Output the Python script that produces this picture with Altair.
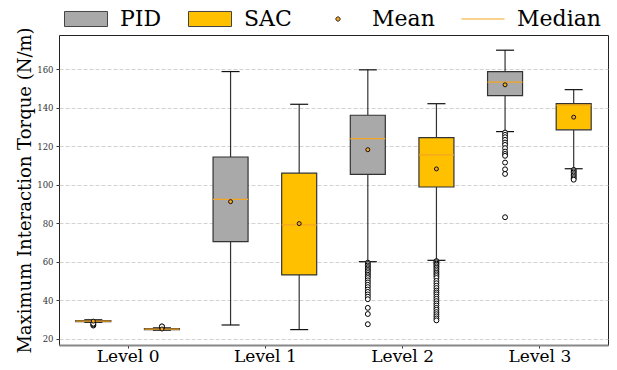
import altair as alt
import pandas as pd

# ---------------- data ----------------
levels = [0, 1, 2, 3]
level_labels = ["Level 0", "Level 1", "Level 2", "Level 3"]
controllers = ["PID", "SAC"]

pid_whislo = [28.5, 27.1, 60.0, 127.6]
pid_q1 = [28.8, 70.4, 105.4, 146.3]
pid_median = [29.1, 92.4, 124.0, 153.3]
pid_q3 = [29.4, 114.4, 136.1, 158.8]
pid_whishi = [29.8, 158.8, 159.7, 169.9]
pid_mean = [29.1, 91.2, 118.2, 151.9]

sac_whislo = [24.4, 24.7, 60.7, 108.3]
sac_q1 = [24.7, 53.1, 98.8, 128.5]
sac_median = [24.9, 79.1, 115.5, 141.3]
sac_q3 = [25.2, 106.0, 124.5, 142.1]
sac_whishi = [25.6, 141.8, 142.1, 149.4]
sac_mean = [25.0, 79.8, 108.2, 135.1]

pid_outliers = [
    [26.8, 27.3, 27.8],
    [],
    [59.5, 58.8, 58.0, 57.2, 56.5, 55.7, 55.0, 54.1, 53.2, 52.4, 51.5, 50.3,
     49.2, 48.0, 46.8, 45.5, 44.3, 43.0, 41.8, 40.5, 36.0, 32.8, 27.5],
    [127.1, 125.9, 124.7, 123.3, 121.9, 120.7, 119.0, 117.2, 116.0, 115.0,
     111.5, 108.0, 105.6, 83.1],
]
sac_outliers = [
    [25.9, 26.2, 26.4],
    [],
    [60.3, 59.7, 59.0, 58.4, 57.6, 56.8, 56.0, 55.1, 54.2, 53.4, 52.5, 51.5,
     50.0, 48.8, 47.5, 46.3, 45.0, 44.0, 43.0, 41.8, 40.7, 39.5, 38.3, 37.2,
     36.0, 35.0, 33.8, 32.7, 31.6, 30.5, 29.5],
    [107.7, 107.0, 106.3, 105.5, 104.8, 104.0, 103.3, 102.6],
]

legend_entries = ["PID", "SAC", "Mean", "Median"]
y_ticks = [20, 40, 60, 80, 100, 120, 140, 160]

# ---------------- tables ----------------
stat_rows = []
for ctrl, arrs in [
    ("PID", (pid_whislo, pid_q1, pid_median, pid_q3, pid_whishi, pid_mean)),
    ("SAC", (sac_whislo, sac_q1, sac_median, sac_q3, sac_whishi, sac_mean)),
]:
    for i, lv in enumerate(levels):
        stat_rows.append(dict(level=lv, ctrl=ctrl, whislo=arrs[0][i], q1=arrs[1][i],
                              median=arrs[2][i], q3=arrs[3][i], whishi=arrs[4][i],
                              mean=arrs[5][i]))
stats = pd.DataFrame(stat_rows)

out_rows = []
for ctrl, lists in [("PID", pid_outliers), ("SAC", sac_outliers)]:
    for i, lv in enumerate(levels):
        for v in lists[i]:
            out_rows.append(dict(level=lv, ctrl=ctrl, value=v))
outliers = pd.DataFrame(out_rows)

legend_df = pd.DataFrame({"entry": legend_entries})

# ---------------- styling ----------------
FONT = "DejaVu Serif"
GRAY = "#A9A9A9"
GOLD = "#FFC000"
ORANGE = "#F5A623"

pos_expr = "datum.level + (datum.ctrl == 'PID' ? -0.25 : 0.25)"
label_arr = "[" + ",".join("'%s'" % s for s in level_labels) + "]"

xscale = alt.Scale(domain=[-0.5, 3.5], nice=False, zero=False)
yscale = alt.Scale(domain=[16.7, 177.8], nice=False, zero=False)

xaxis = alt.Axis(title=None, values=levels, labelExpr=label_arr + "[datum.value]",
                 grid=False, domainColor="#888888", domainWidth=2, tickSize=3,
                 tickColor="#333333", labelFont=FONT, labelFontSize=17,
                 labelColor="black", labelPadding=0)
yaxis = alt.Axis(title="Maximum Interaction Torque (N/m)", values=y_ticks,
                 grid=True, gridDash=[4, 2], gridColor="#c8c8c8", gridWidth=0.8,
                 domain=False, tickSize=3, tickColor="#333333",
                 labelFont=FONT, labelFontSize=8.5, labelColor="#333333",
                 labelPadding=3, titleFont=FONT, titleFontSize=18,
                 titleFontWeight="normal", titleColor="black", titlePadding=2)


def X(f):
    return alt.X(f + ":Q", scale=xscale, axis=xaxis)


def Y(f):
    return alt.Y(f + ":Q", scale=yscale, axis=yaxis)


base = alt.Chart(stats).transform_calculate(
    pos=pos_expr,
    bl="datum.pos - 0.1275", br="datum.pos + 0.1275",
    cl="datum.pos - 0.0656", cr="datum.pos + 0.0656",
)

RECT_PATH = "M-1,-0.35H1V0.35H-1Z"
DOT_PATH = "M0.1,0A0.1,0.1 0 1,1 -0.1,0A0.1,0.1 0 1,1 0.1,0Z"
LINE_PATH = "M-1,0H1"

leg = alt.Legend(
    title=None, orient="none", legendX=5, legendY=-38,
    direction="horizontal", columns=4, symbolSize=1849,
    symbolStrokeWidth=1, labelFont=FONT, labelFontSize=22,
    labelColor="black", labelOffset=12, columnPadding=24, symbolOpacity=1,
    labelLimit=300,
)

fill_scale = alt.Scale(domain=legend_entries, range=[GRAY, GOLD, ORANGE, ORANGE])
stroke_scale = alt.Scale(domain=legend_entries,
                         range=["#444444", "#444444", "#222222", ORANGE])
shape_scale = alt.Scale(domain=legend_entries,
                        range=[RECT_PATH, RECT_PATH, DOT_PATH, LINE_PATH])

dummy = alt.Chart(legend_df).transform_filter("false").mark_point(
    filled=True, opacity=1, strokeWidth=1
).encode(
    fill=alt.Fill("entry:N", scale=fill_scale, legend=leg),
    stroke=alt.Stroke("entry:N", scale=stroke_scale, legend=leg),
    shape=alt.Shape("entry:N", scale=shape_scale, legend=leg),
)

whisk_lo = base.mark_rule(color="#333333", strokeWidth=1.2).encode(
    x=X("pos"), y=Y("whislo"), y2="q1:Q")
whisk_hi = base.mark_rule(color="#333333", strokeWidth=1.2).encode(
    x=X("pos"), y=Y("q3"), y2="whishi:Q")
cap_lo = base.mark_rule(color="#111111", strokeWidth=1.2).encode(
    x=X("cl"), x2="cr:Q", y=Y("whislo"))
cap_hi = base.mark_rule(color="#111111", strokeWidth=1.2).encode(
    x=X("cl"), x2="cr:Q", y=Y("whishi"))
box = base.mark_rect(stroke="#333333", strokeWidth=1.2).encode(
    x=X("bl"), x2="br:Q", y=Y("q1"), y2="q3:Q",
    fill=alt.condition("datum.ctrl == 'PID'", alt.value(GRAY), alt.value(GOLD)))
med = base.mark_rule(color=ORANGE, strokeWidth=1.2).encode(
    x=X("bl"), x2="br:Q", y=Y("median"))
mean = base.mark_point(filled=True, fill=ORANGE, stroke="#111111", strokeWidth=1,
                       size=16, opacity=1).encode(x=X("pos"), y=Y("mean"))
outl = alt.Chart(outliers).transform_calculate(pos=pos_expr).mark_point(
    filled=True, fill="white", stroke="black", strokeWidth=1, size=24, opacity=1
).encode(x=X("pos"), y=Y("value"))

chart = alt.layer(
    dummy, whisk_lo, whisk_hi, cap_lo, cap_hi, box, med, outl, mean
).properties(
    width=549, height=310,
    autosize=alt.AutoSizeParams(type="none"),
    padding={"left": 51, "top": 27, "right": 1, "bottom": 17},
).configure(font=FONT).configure_view(stroke="#222222", strokeWidth=1)

chart.save("out.html", embed_options={"renderer": "svg", "actions": False})
